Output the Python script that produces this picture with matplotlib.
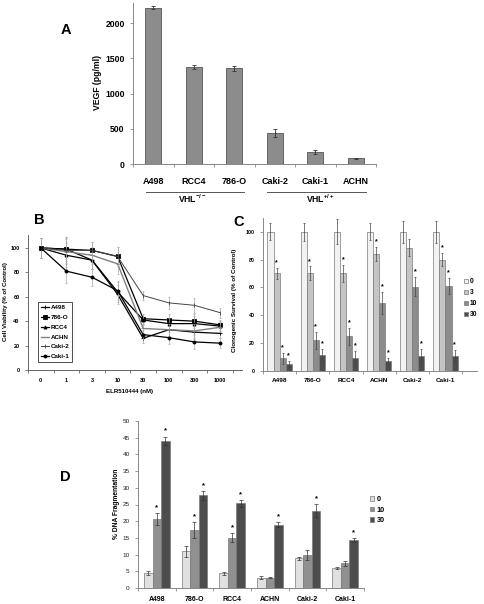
import matplotlib
matplotlib.use('Agg')
import matplotlib.pyplot as plt
import numpy as np

plt.rcParams['font.family'] = ['Liberation Sans', 'DejaVu Sans']
plt.rcParams['mathtext.fontset'] = 'custom'
plt.rcParams['mathtext.rm'] = 'Liberation Sans:bold'
plt.rcParams['mathtext.bf'] = 'Liberation Sans:bold'

# ---- panel A: VEGF secretion
vegf_lines = ['A498', 'RCC4', '786-O', 'Caki-2', 'Caki-1', 'ACHN']
vegf = [2220, 1375, 1360, 440, 170, 80]
vegf_err = [20, 25, 35, 55, 30, 5]

# ---- panel B: cell viability vs dose
doses = ['0', '1', '3', '10', '30', '100', '300', '1000']
via_names = ['A498', '786-O', 'RCC4', 'ACHN', 'Caki-2', 'Caki-1']
via_a498 = [100, 99, 90, 62, 26, 33, 31, 30]
via_786o = [100, 99, 98, 93, 42, 41, 40, 37]
via_rcc4 = [100, 94, 90, 64, 41, 38, 38, 36]
via_achn = [100, 97, 94, 87, 34, 33, 32, 35]
via_caki2 = [100, 98, 98, 93, 61, 55, 53, 47]
via_caki1 = [100, 81, 76, 65, 29, 26.5, 23, 22]
via_err = [8, 10, 7, 8, 4, 5, 6, 4]

# ---- panel C: clonogenic survival
cell_lines = ['A498', '786-O', 'RCC4', 'ACHN', 'Caki-2', 'Caki-1']
clono_doses = ['0', '3', '10', '30']
clono_0 = [100, 100, 100, 100, 100, 100]
clono_3 = [70, 70, 70, 84, 88.5, 80]
clono_10 = [9, 22, 25, 49, 60.5, 61]
clono_30 = [5, 11.5, 9.5, 7, 11, 11]
clono_err_0 = [6, 6.5, 9, 6, 8, 8]
clono_err_3 = [4, 5, 6, 5, 6, 5]
clono_err_10 = [4, 6, 6, 8, 7, 6]
clono_err_30 = [2, 4, 5, 2.5, 5, 4]
clono_star_3 = [True, True, True, True, False, True]

# ---- panel D: DNA fragmentation
frag_doses = ['0', '10', '30']
frag_0 = [4.5, 11, 4.4, 3.1, 8.9, 6]
frag_10 = [20.7, 17.3, 15.1, 3.1, 9.8, 7.4]
frag_30 = [44, 27.7, 25.3, 19, 23.2, 14.4]
frag_err_0 = [0.5, 1.7, 0.5, 0.5, 0.5, 0.3]
frag_err_10 = [1.7, 2.4, 1.3, 0.2, 1.5, 0.7]
frag_err_30 = [1.3, 1.3, 0.9, 0.7, 1.9, 0.5]
frag_star_10 = [True, True, True, False, False, False]

W, H = 484, 604
fig = plt.figure(figsize=(W / 100, H / 100), dpi=100)


def fx(px):
    return px / W


def fy(py):
    return 1 - py / H


def style_axes(ax, color='#888888'):
    for s in ['top', 'right']:
        ax.spines[s].set_visible(False)
    for s in ['left', 'bottom']:
        ax.spines[s].set_color(color)
        ax.spines[s].set_linewidth(0.7)
    ax.tick_params(colors=color, length=2.5, width=0.6)


# ================= A
axA = fig.add_axes([fx(133), fy(164), 243 / W, 161 / H])
xa = np.arange(len(vegf_lines))
axA.bar(xa, vegf, width=0.4, color='#8c8c8c', edgecolor='#555555', linewidth=0.6)
axA.errorbar(xa, vegf, yerr=vegf_err, fmt='none', ecolor='#333333', elinewidth=0.6,
             capsize=1.2, capthick=0.6)
axA.set_xlim(-0.5, 5.5)
axA.set_ylim(0, 2288)
axA.set_yticks([0, 500, 1000, 1500, 2000])
style_axes(axA)
axA.set_xticks(xa)
axA.set_xticklabels(vegf_lines, fontsize=6.5, fontweight='bold', color='black')
axA.set_xticks(np.arange(-0.5, 6, 1), minor=True)
axA.tick_params(axis='x', which='major', length=0, pad=9)
axA.tick_params(axis='x', which='minor', length=2.5, color='#888888')
for lab in axA.get_yticklabels():
    lab.set_fontsize(6.2)
    lab.set_fontweight('bold')
    lab.set_color('black')
fig.text(fx(97), fy(83), 'VEGF (pg/ml)', rotation=90, ha='center', va='center',
         fontsize=6.2, fontweight='bold')
trA = axA.get_xaxis_transform()
axA.plot([-0.18, 2.24], [-0.174, -0.174], transform=trA, color='#555555', lw=0.7, clip_on=False)
axA.plot([2.81, 5.25], [-0.174, -0.174], transform=trA, color='#555555', lw=0.7, clip_on=False)
axA.text(0.96, -0.215, r'VHL$^{-/-}$', transform=trA, ha='center', va='center', fontsize=6.2,
         fontweight='bold')
axA.text(4.12, -0.215, r'VHL$^{+/+}$', transform=trA, ha='center', va='center', fontsize=6.2,
         fontweight='bold')

# ================= B
axB = fig.add_axes([fx(28), fy(370), 214 / W, 135 / H])
xb = np.arange(len(doses))
series = [via_a498, via_786o, via_rcc4, via_achn, via_caki2, via_caki1]
markers = ['+', 's', '^', '_', '|', 'o']
colors = ['black', 'black', 'black', '#808080', '#444444', 'black']
widths = [0.9, 0.9, 0.9, 1.0, 0.7, 0.9]
for name, vals, m, c, lw in zip(via_names, series, markers, colors, widths):
    axB.errorbar(xb, vals, yerr=via_err, fmt='none', ecolor='#aaaaaa', elinewidth=0.5,
                 capsize=1, capthick=0.5)
    axB.plot(xb, vals, color=c, lw=lw, marker=m, markersize=2.2, markeredgewidth=0.6,
             label=name)
axB.set_xlim(-0.5, 7.86)
axB.set_ylim(0, 110.6)
axB.set_yticks([0, 20, 40, 60, 80, 100])
style_axes(axB, '#666666')
axB.set_xticks(xb)
axB.set_xticklabels(doses)
axB.set_xticks(np.arange(-0.5, 8, 1), minor=True)
axB.tick_params(axis='x', which='major', length=0, pad=6)
axB.tick_params(axis='x', which='minor', length=2, color='#666666')
for lab in axB.get_xticklabels() + axB.get_yticklabels():
    lab.set_fontsize(4)
    lab.set_fontweight('bold')
    lab.set_color('black')
fig.text(fx(130), fy(392), 'ELR510444 (nM)', ha='center', va='center', fontsize=4.4,
         fontweight='bold')
fig.text(fx(6), fy(302), 'Cell Viability (% of Control)', rotation=90, ha='center',
         va='center', fontsize=4.4, fontweight='bold')
legB = axB.legend(loc='lower left', bbox_to_anchor=(fx(38), fy(362)),
                  bbox_transform=fig.transFigure, fontsize=4.5, frameon=True,
                  handlelength=1.3, handletextpad=0.3, borderpad=0.45, labelspacing=0.7,
                  fancybox=False, borderaxespad=0)
legB.get_frame().set_edgecolor('black')
legB.get_frame().set_linewidth(0.6)
for t in legB.get_texts():
    t.set_fontweight('bold')

# ================= C
axC = fig.add_axes([fx(263), fy(371), 214 / W, 153 / H])
xc = np.arange(len(cell_lines))
bw = 0.183
c_vals = [clono_0, clono_3, clono_10, clono_30]
c_errs = [clono_err_0, clono_err_3, clono_err_10, clono_err_30]
c_cols = ['#f2f2f2', '#c4c4c4', '#8c8c8c', '#4d4d4d']
for k, (vals, errs, col, lab) in enumerate(zip(c_vals, c_errs, c_cols, clono_doses)):
    pos = xc + (k - 1.5) * bw
    axC.bar(pos, vals, width=bw, color=col, edgecolor='#7a7a7a', linewidth=0.5, label=lab)
    axC.errorbar(pos, vals, yerr=errs, fmt='none', ecolor='#444444', elinewidth=0.5,
                 capsize=1, capthick=0.5)
    for i in range(len(cell_lines)):
        star = k == 2 or k == 3 or (k == 1 and clono_star_3[i])
        if star:
            axC.text(pos[i], vals[i] + errs[i] + 1.2, '*', ha='center', va='bottom',
                     fontsize=5, fontweight='bold')
axC.set_xlim(-0.5, 5.95)
axC.set_ylim(0, 109.8)
axC.set_yticks([0, 20, 40, 60, 80, 100])
style_axes(axC)
axC.set_xticks(xc)
axC.set_xticklabels(cell_lines)
axC.set_xticks(np.arange(-0.5, 6, 1), minor=True)
axC.tick_params(axis='x', which='major', length=0, pad=5)
axC.tick_params(axis='x', which='minor', length=2, color='#888888')
for lab in axC.get_xticklabels():
    lab.set_fontsize(4.6)
    lab.set_fontweight('bold')
    lab.set_color('black')
for lab in axC.get_yticklabels():
    lab.set_fontsize(3.8)
    lab.set_fontweight('bold')
    lab.set_color('black')
fig.text(fx(234.5), fy(300), 'Clonogenic Survival (% of Control)', rotation=90, ha='center',
         va='center', fontsize=4.5, fontweight='bold')
legC = axC.legend(loc='upper left', bbox_to_anchor=(fx(464), fy(278)),
                  bbox_transform=fig.transFigure, fontsize=4.8, frameon=False,
                  handlelength=0.6, handleheight=0.6, handletextpad=0.3, labelspacing=0.6,
                  borderaxespad=0, borderpad=0)
for t in legC.get_texts():
    t.set_fontweight('bold')

# ================= D
axD = fig.add_axes([fx(138), fy(588), 226 / W, 167 / H])
xd = np.arange(len(cell_lines))
bw = 0.23
d_vals = [frag_0, frag_10, frag_30]
d_errs = [frag_err_0, frag_err_10, frag_err_30]
d_cols = ['#e0e0e0', '#909090', '#4d4d4d']
for k, (vals, errs, col, lab) in enumerate(zip(d_vals, d_errs, d_cols, frag_doses)):
    pos = xd + (k - 1) * bw
    axD.bar(pos, vals, width=bw, color=col, edgecolor='#7a7a7a', linewidth=0.5, label=lab)
    axD.errorbar(pos, vals, yerr=errs, fmt='none', ecolor='#333333', elinewidth=0.5,
                 capsize=1.2, capthick=0.5)
    for i in range(len(cell_lines)):
        star = k == 2 or (k == 1 and frag_star_10[i])
        if star:
            axD.text(pos[i], vals[i] + errs[i] + 0.6, '*', ha='center', va='bottom',
                     fontsize=5.5, fontweight='bold')
axD.set_xlim(-0.5, 5.5)
axD.set_ylim(0, 50)
axD.set_yticks(np.arange(0, 51, 5))
style_axes(axD)
axD.set_xticks(xd)
axD.set_xticklabels(cell_lines)
axD.set_xticks(np.arange(-0.5, 6, 1), minor=True)
axD.tick_params(axis='x', which='major', length=0, pad=6)
axD.tick_params(axis='x', which='minor', length=2, color='#888888')
for lab in axD.get_xticklabels():
    lab.set_fontsize(5)
    lab.set_fontweight('bold')
    lab.set_color('black')
for lab in axD.get_yticklabels():
    lab.set_fontsize(4.6)
    lab.set_color('#222222')
fig.text(fx(117), fy(504), '% DNA Fragmentation', rotation=90, ha='center', va='center',
         fontsize=4.8, fontweight='bold')
legD = axD.legend(loc='upper left', bbox_to_anchor=(fx(370), fy(496)),
                  bbox_transform=fig.transFigure, fontsize=5.2, frameon=False,
                  handlelength=0.6, handleheight=0.6, handletextpad=0.3, labelspacing=0.5,
                  borderaxespad=0, borderpad=0)
for t in legD.get_texts():
    t.set_fontweight('bold')

# panel letters
for letter, px, py in [('A', 65.5, 30), ('B', 39, 220), ('C', 239, 222), ('D', 65.5, 477)]:
    fig.text(fx(px), fy(py), letter, ha='center', va='center', fontsize=10.5, fontweight='bold')

fig.savefig('out.png', dpi=100, facecolor='white')
